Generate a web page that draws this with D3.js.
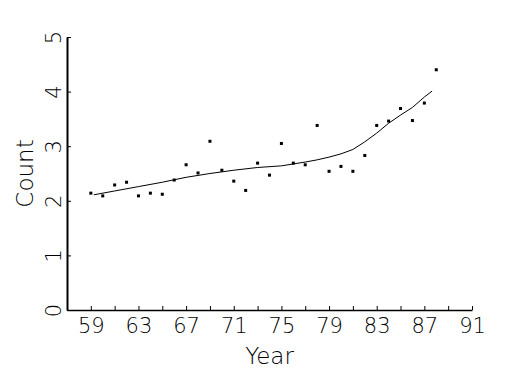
<!DOCTYPE html>
<html>
<head>
<meta charset="utf-8">
<script src="https://cdn.jsdelivr.net/npm/d3@7"></script>
<style>
  body { margin: 0; background: #fff; }
  text { font-family: "DejaVu Sans", sans-serif; font-weight: 200; fill: #000; }
</style>
</head>
<body>
<svg id="chart" width="525" height="375"></svg>
<script>
// observed counts per year
let years = [59, 60, 61, 62, 63, 64, 65, 66, 67, 68, 69, 70, 71, 72, 73, 74,
             75, 76, 77, 78, 79, 80, 81, 82, 83, 84, 85, 86, 87, 88];
let counts = [2.14, 2.09, 2.29, 2.34, 2.09, 2.14, 2.12, 2.38, 2.66, 2.51, 3.09, 2.56, 2.36, 2.19, 2.69, 2.47,
              3.05, 2.69, 2.66, 3.38, 2.54, 2.63, 2.54, 2.83, 3.38, 3.46, 3.69, 3.47, 3.79, 4.40];

// smoothed fit line
let fitYears = [59.25, 61, 63, 65, 67, 69, 71, 73, 75, 77, 78, 79, 80, 81, 82, 83, 84, 85, 86, 87, 87.65];
let fitValues = [2.11, 2.18, 2.26, 2.34, 2.43, 2.50, 2.56, 2.61, 2.64, 2.71, 2.75, 2.80, 2.86, 2.94, 3.08, 3.24, 3.42, 3.57, 3.71, 3.90, 4.01];

let xTicks = d3.range(59, 92, 2);
let xLabels = [59, 63, 67, 71, 75, 79, 83, 87, 91];
let yTicks = [0, 1, 2, 3, 4, 5];

const svg = d3.select("#chart");

const x = d3.scaleLinear().domain([57, 91]).range([67, 472]);
const y = d3.scaleLinear().domain([0, 5]).range([310, 37]);

// bottom axis, ticks pointing up
const xAxis = svg.append("g")
  .attr("transform", `translate(0,${y(0)})`)
  .call(d3.axisBottom(x)
    .tickValues(xTicks)
    .tickSizeInner(-4)
    .tickSizeOuter(0)
    .tickPadding(8)
    .tickFormat(d => xLabels.includes(d) ? d : ""));
xAxis.select(".domain").attr("stroke", "#000").attr("stroke-width", 1.5);
xAxis.selectAll("line").attr("stroke", "#000");
xAxis.selectAll("text").style("font-size", "21px").style("font-family", null);

// left axis, labels turned sideways
const yAxis = svg.append("g")
  .attr("transform", `translate(${x(57)},0)`)
  .call(d3.axisLeft(y)
    .tickValues(yTicks)
    .tickSizeInner(-4)
    .tickSizeOuter(0)
    .tickFormat(d3.format("d")));
yAxis.select(".domain").attr("stroke", "#000").attr("stroke-width", 2);
yAxis.selectAll("line").attr("stroke", "#000");
yAxis.selectAll("text")
  .attr("x", 0)
  .attr("dy", 0)
  .attr("text-anchor", "middle")
  .attr("transform", "translate(-6,0) rotate(-90)")
  .style("font-size", "21px")
  .style("font-family", null);

svg.append("text")
  .attr("x", (x(57) + x(91)) / 2)
  .attr("y", 364)
  .attr("text-anchor", "middle")
  .style("font-size", "23px")
  .text("Year");

svg.append("text")
  .attr("transform", `translate(33,${(y(0) + y(5)) / 2}) rotate(-90)`)
  .attr("text-anchor", "middle")
  .style("font-size", "23px")
  .text("Count");

// points
svg.append("g").selectAll("rect")
  .data(years)
  .enter()
  .append("rect")
    .attr("x", (d, i) => x(d) - 1.5)
    .attr("y", (d, i) => y(counts[i]) - 1.5)
    .attr("width", 3)
    .attr("height", 3)
    .attr("fill", "#000");

// fit
const line = d3.line()
  .x((d, i) => x(d))
  .y((d, i) => y(fitValues[i]));

svg.append("path")
  .datum(fitYears)
  .attr("d", line)
  .attr("fill", "none")
  .attr("stroke", "#000")
  .attr("stroke-width", 1);
</script>
</body>
</html>
